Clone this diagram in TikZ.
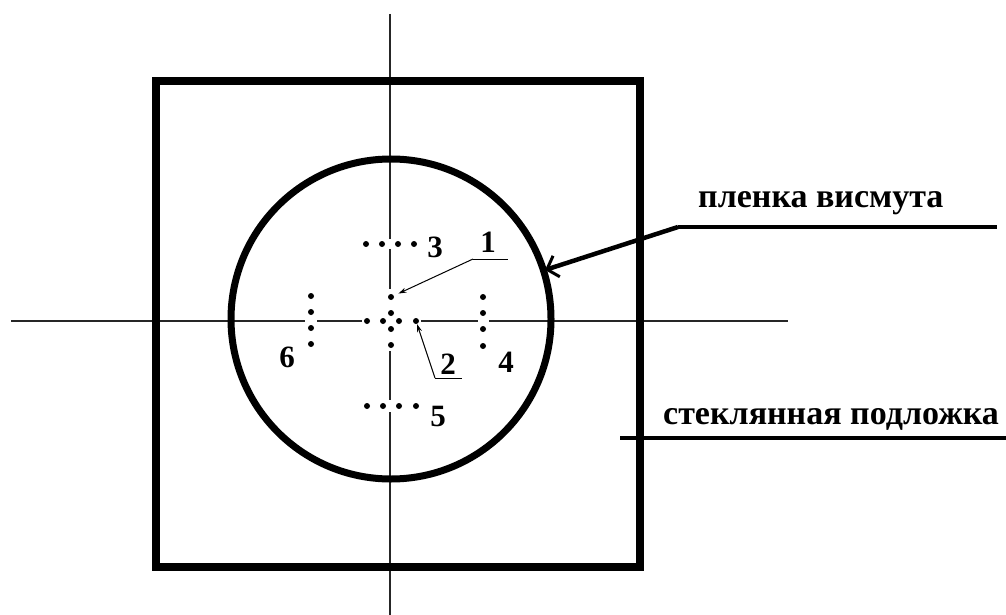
\documentclass[tikz,border=0pt]{standalone}
\usepackage{fontspec}
\setmainfont{Liberation Serif}
\usetikzlibrary{arrows.meta}
\tikzset{
  axisline/.style={line width=1.2pt, black!85},
  axisgap/.style={line width=4pt, white},
  thickframe/.style={line width=8pt, black},
  filmcircle/.style={line width=7pt, black},
  spot/.style={circle, fill=black, inner sep=0pt, minimum size=6pt},
  numlabel/.style={inner sep=0pt, font=\fontsize{31}{35}\selectfont\bfseries},
  biglabel/.style={inner sep=0pt, font=\fontsize{34}{39}\selectfont\bfseries},
  thinleader/.style={line width=1pt, -{Stealth[length=8pt,width=5pt]}},
  thickleader/.style={line width=4.5pt, -{Straight Barb[length=10pt,width=22pt,line width=3pt]}},
  thickline/.style={line width=4.5pt},
  thinline/.style={line width=1pt}
}
\begin{document}
\begin{tikzpicture}[x=1pt,y=-1pt]
\useasboundingbox[fill=white] (0,0) rectangle (1006,615);
% axes
\coordinate (vtop) at (390,14);
\coordinate (vbot) at (390,615);
\coordinate (hl) at (11,321);
\coordinate (hr) at (788,321);
\draw[axisline] (vtop) -- (vbot);
\draw[axisline] (hl) -- (hr);
% gaps in the axes around the dot groups
\draw[axisgap] (390,289) -- (390,351);
\draw[axisgap] (362,321) -- (421,321);
\draw[axisgap] (305,321) -- (317,321);
\draw[axisgap] (478,321) -- (489,321);
\draw[axisgap] (390,239) -- (390,249);
\draw[axisgap] (390,400) -- (390,412);
% substrate square
\draw[thickframe] (156,81) rectangle (640,567);
% film circle
\draw[filmcircle] (391,319) circle[radius=160];
% central cross of dots
\node[spot] (cT) at (391,313) {};
\node[spot] (cL) at (383,321) {};
\node[spot] (cR) at (399,321) {};
\node[spot] (cB) at (391,329) {};
\node[spot] (d1) at (391,297) {};
\node[spot] (oL) at (367,321) {};
\node[spot] (d2) at (416,321) {};
\node[spot] (oB) at (391,345) {};
% group 3
\foreach \x [count=\i] in {366,382,398,414} \node[spot] (g3\i) at (\x,244) {};
% group 5
\foreach \x [count=\i] in {367,383,399,416} \node[spot] (g5\i) at (\x,406) {};
% group 6
\foreach \y [count=\i] in {296,312,328,344} \node[spot] (g6\i) at (311,\y) {};
% group 4
\foreach \y [count=\i] in {297,313,329,346} \node[spot] (g4\i) at (483,\y) {};
% number labels
\node[numlabel] (n1) at (488,242) {1};
\node[numlabel] (n2) at (448,364) {2};
\node[numlabel] (n3) at (435,247) {3};
\node[numlabel] (n4) at (506,362) {4};
\node[numlabel] (n5) at (438,416) {5};
\node[numlabel] (n6) at (287,357) {6};
% leaders for 1 and 2
\coordinate (u1a) at (473,259);
\coordinate (u1b) at (508,259);
\coordinate (u2a) at (435,378);
\coordinate (u2b) at (462,378);
\draw[thinline] (u1a) -- (u1b);
\draw[thinline] (u2a) -- (u2b);
\draw[thinleader, shorten >=5pt] (u1a) -- (d1);
\draw[thinleader] (u2a) -- (d2);
% film label
\node[biglabel, anchor=base west] (film) at (698,207) {пленка висмута};
\coordinate (fa) at (678,227);
\coordinate (fb) at (997,227);
\coordinate (ftip) at (545,270);
\draw[thickline] (fa) -- (fb);
\draw[thickleader] (fa) -- (ftip);
% substrate label
\node[biglabel, anchor=base west] (glass) at (663,424) {стеклянная подложка};
\coordinate (ga) at (620,438);
\coordinate (gb) at (1006,438);
\draw[thickline] (ga) -- (gb);
\end{tikzpicture}
\end{document}
